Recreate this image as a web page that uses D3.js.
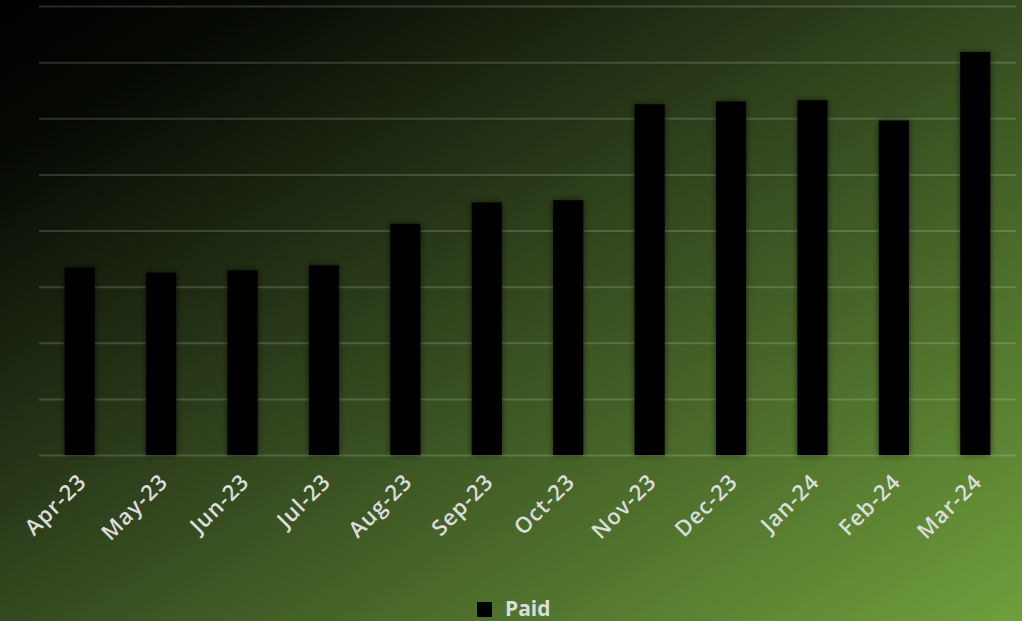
<!DOCTYPE html>
<html>
<head>
<meta charset="utf-8">
<script src="https://cdn.jsdelivr.net/npm/d3@7"></script>
<style>
  html, body { margin: 0; padding: 0; background: #000; }
  svg { display: block; }
  .x-axis text { font-family: 'Open Sans', sans-serif; font-weight: 600; font-size: 22px; letter-spacing: 1px; fill: #dcdcdc; }
</style>
</head>
<body>
<div id="chart"></div>
<script>
let months = ['Apr-23', 'May-23', 'Jun-23', 'Jul-23', 'Aug-23', 'Sep-23', 'Oct-23', 'Nov-23', 'Dec-23', 'Jan-24', 'Feb-24', 'Mar-24']
let paid = [33.4, 32.5, 32.9, 33.8, 41.2, 45.0, 45.4, 62.5, 63.0, 63.2, 59.6, 71.8]
let gridTicks = [0, 10, 20, 30, 40, 50, 60, 70, 80]
let seriesName = 'Paid'

let W = 1022, H = 621
let margin = { top: 6, left: 39, right: 6, bottom: 166 }
let width = W - margin.left - margin.right
let height = H - margin.top - margin.bottom

let svg = d3.select('#chart').append('svg')
  .attr('width', W)
  .attr('height', H)

let defs = svg.append('defs')
let grad = defs.append('linearGradient')
  .attr('id', 'bg')
  .attr('x1', '0%').attr('y1', '0%')
  .attr('x2', '100%').attr('y2', '100%')
grad.append('stop').attr('offset', '0%').attr('stop-color', '#000000')
grad.append('stop').attr('offset', '12%').attr('stop-color', '#050803')
grad.append('stop').attr('offset', '50%').attr('stop-color', '#34491f')
grad.append('stop').attr('offset', '100%').attr('stop-color', '#6f9f3c')

let shadow = defs.append('filter')
  .attr('id', 'shadow')
  .attr('x', '-50%').attr('y', '-10%')
  .attr('width', '200%').attr('height', '120%')
shadow.append('feDropShadow')
  .attr('dx', 0).attr('dy', 0)
  .attr('stdDeviation', 3)
  .attr('flood-color', '#000')
  .attr('flood-opacity', 0.6)

svg.append('rect')
  .attr('width', W)
  .attr('height', H)
  .attr('fill', 'url(#bg)')

let g = svg.append('g')
  .attr('transform', 'translate(' + margin.left + ',' + margin.top + ')')

let xPositionScale = d3.scaleBand()
  .domain(months)
  .range([0, width])
  .paddingInner(0.63)
  .paddingOuter(0.315)

let yPositionScale = d3.scaleLinear()
  .domain([0, 80])
  .range([height, 0])

// gridlines
let yAxis = d3.axisLeft(yPositionScale)
  .tickValues(gridTicks)
  .tickSize(-width)
  .tickFormat('')
g.append('g')
  .attr('class', 'grid')
  .call(yAxis)
  .call(s => s.select('.domain').remove())
  .call(s => s.selectAll('.tick line')
    .attr('stroke', 'rgba(255,255,255,0.16)')
    .attr('stroke-width', 2))

g.selectAll('.bar')
  .data(paid)
  .enter()
  .append('rect')
  .attr('class', 'bar')
  .attr('x', (d, i) => xPositionScale(months[i]))
  .attr('y', d => yPositionScale(d))
  .attr('width', xPositionScale.bandwidth())
  .attr('height', d => height - yPositionScale(d))
  .attr('fill', '#000')
  .attr('filter', 'url(#shadow)')

let xAxis = d3.axisBottom(xPositionScale).tickSize(0)
g.append('g')
  .attr('class', 'axis x-axis')
  .attr('transform', 'translate(0,' + height + ')')
  .call(xAxis)
  .call(s => s.select('.domain').remove())
  .selectAll('text')
  .attr('text-anchor', 'end')
  .attr('dx', 0)
  .attr('dy', 0)
  .attr('transform', 'translate(6,26) rotate(-45)')

// legend
let legend = svg.append('g')
  .attr('transform', 'translate(477,602)')
legend.append('rect')
  .attr('width', 15)
  .attr('height', 15)
  .attr('fill', '#000')
legend.append('text')
  .attr('x', 28)
  .attr('y', 14)
  .attr('font-family', "'Open Sans', sans-serif")
  .attr('font-weight', 700)
  .attr('font-size', 21)
  .attr('fill', '#dcdcdc')
  .text(seriesName)
</script>
</body>
</html>
